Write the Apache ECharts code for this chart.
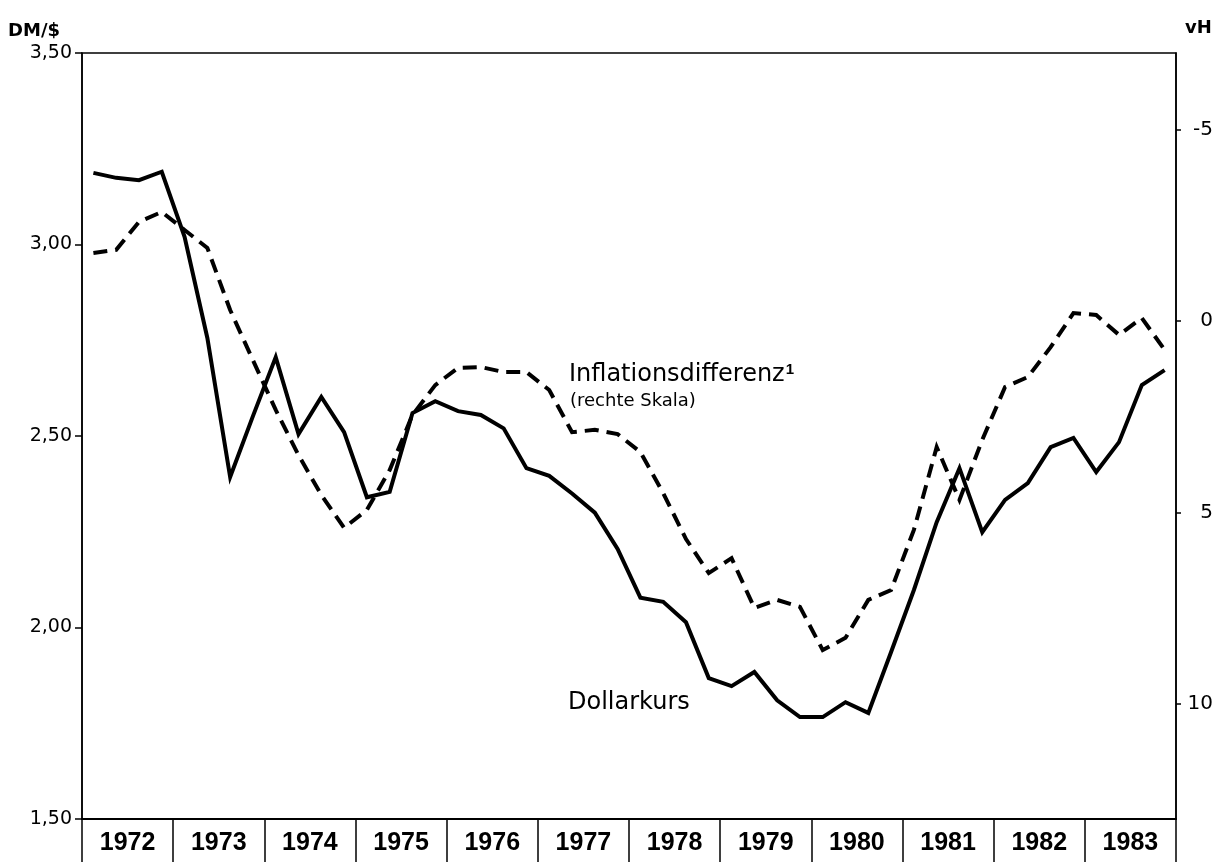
<!DOCTYPE html>
<html>
<head>
<meta charset="utf-8">
<script src="https://cdn.jsdelivr.net/npm/echarts@6/dist/echarts.min.js"></script>
<style>
  html, body { margin: 0; padding: 0; background: #fff; }
  #chart { width: 1229px; height: 862px; }
</style>
</head>
<body>
<div id="chart"></div>
<script>
// Jahre (untere Achse) und Quartale
const years = ['1972', '1973', '1974', '1975', '1976', '1977', '1978', '1979', '1980', '1981', '1982', '1983'];
const quarters = years.flatMap(y => ['I', 'II', 'III', 'IV'].map(q => y + '/' + q));

// Dollarkurs DM/$ (linke Skala), Quartalswerte
const dollarKurs = [
  3.187, 3.174, 3.168, 3.190,
  3.020, 2.756, 2.393, 2.552,
  2.706, 2.505, 2.602, 2.510,
  2.340, 2.354, 2.560, 2.591,
  2.565, 2.555, 2.520, 2.416,
  2.396, 2.350, 2.300, 2.205,
  2.078, 2.067, 2.014, 1.868,
  1.847, 1.884, 1.810, 1.766,
  1.766, 1.805, 1.777, 1.936,
  2.098, 2.275, 2.416, 2.249,
  2.333, 2.377, 2.471, 2.495,
  2.406, 2.484, 2.633, 2.672
];

// Inflationsdifferenz in vH (rechte Skala, umgekehrt)
const inflDiff = [
  -1.78, -1.86, -2.59, -2.85,
  -2.38, -1.91, -0.29, 1.02,
  2.32, 3.50, 4.54, 5.40,
  4.93, 3.89, 2.45, 1.67,
  1.22, 1.20, 1.33, 1.33,
  1.80, 2.90, 2.84, 2.95,
  3.42, 4.49, 5.69, 6.58,
  6.19, 7.49, 7.28, 7.46,
  8.59, 8.27, 7.28, 7.02,
  5.45, 3.29, 4.67, 3.10,
  1.72, 1.46, 0.68, -0.21,
  -0.16, 0.36, -0.08, 0.75
];

// Skalenbeschriftungen rechts
const rightTicks = [-5, 0, 5, 10];

const font = "'Liberation Sans', Arial, sans-serif";
const labelFont = "'DejaVu Sans', sans-serif";
const chart = echarts.init(document.getElementById('chart'), null, { renderer: 'canvas' });

const option = {
  animation: false,
  backgroundColor: '#fff',
  grid: {
    left: 82, right: 53, top: 53, bottom: 43,
    show: true, borderColor: '#000', borderWidth: 1.5
  },
  xAxis: [
    {
      type: 'category',
      data: quarters,
      boundaryGap: true,
      axisLine: { show: true, onZero: false, lineStyle: { color: '#000', width: 2 } },
      axisTick: { show: false },
      axisLabel: { show: false },
      splitLine: { show: false }
    },
    {
      type: 'category',
      data: years,
      position: 'bottom',
      offset: 0,
      boundaryGap: true,
      axisLine: { show: false, onZero: false },
      axisTick: { show: true, interval: 0, inside: false, length: 43, lineStyle: { color: '#000', width: 1.5 } },
      axisLabel: {
        interval: 0, margin: 12, color: '#000',
        fontFamily: font, fontWeight: 'bold', fontSize: 25
      },
      splitLine: { show: false }
    }
  ],
  yAxis: [
    {
      type: 'value',
      position: 'left',
      min: 1.5, max: 3.5, interval: 0.5,
      name: 'DM/$',
      nameLocation: 'end',
      nameGap: 13,
      nameTextStyle: { color: '#000', fontFamily: labelFont, fontWeight: 'bold', fontSize: 18, align: 'right', padding: [0, 22, 0, 0] },
      axisLine: { show: true, lineStyle: { color: '#000', width: 1.5 } },
      axisTick: { show: true, inside: false, length: 7, lineStyle: { color: '#000', width: 1.5 } },
      axisLabel: {
        margin: 10, color: '#000', fontFamily: labelFont, fontSize: 19,
        formatter: v => v.toFixed(2).replace('.', ',')
      },
      splitLine: { show: false }
    },
    {
      type: 'value',
      position: 'right',
      inverse: true,
      min: -7, max: 13,
      name: 'vH',
      nameLocation: 'start',
      nameGap: 16,
      nameTextStyle: { color: '#000', fontFamily: labelFont, fontWeight: 'bold', fontSize: 18, align: 'left', padding: [0, 0, 0, 9] },
      axisLine: { show: true, lineStyle: { color: '#000', width: 1.5 } },
      axisTick: { show: true, inside: false, length: 5, customValues: rightTicks, lineStyle: { color: '#000', width: 1.5 } },
      axisLabel: {
        customValues: rightTicks,
        align: 'right', margin: 37, color: '#000', fontFamily: labelFont, fontSize: 20,
        formatter: v => String(v)
      },
      splitLine: { show: false }
    }
  ],
  series: [
    {
      name: 'Dollarkurs',
      type: 'line',
      xAxisIndex: 0, yAxisIndex: 0,
      data: dollarKurs,
      symbol: 'none',
      lineStyle: { color: '#000', width: 4, join: 'miter' },
      z: 3
    },
    {
      name: 'Inflationsdifferenz',
      type: 'line',
      xAxisIndex: 0, yAxisIndex: 1,
      data: inflDiff,
      symbol: 'none',
      lineStyle: { color: '#000', width: 4, type: [14, 8], join: 'miter' },
      z: 2
    }
  ],
  graphic: [
    {
      type: 'text', left: 569, top: 362,
      style: {
        text: 'Inflationsdifferenz{s|1}',
        font: '24px ' + labelFont, fill: '#000',
        rich: { s: { fontSize: 15, fontWeight: 'bold', fontFamily: font, verticalAlign: 'top', padding: [0, 0, 10, 1] } }
      }
    },
    {
      type: 'text', left: 570, top: 392,
      style: { text: '(rechte Skala)', font: '18px ' + labelFont, fill: '#000' }
    },
    {
      type: 'text', left: 568, top: 691,
      style: { text: 'Dollarkurs', font: '24px ' + labelFont, fill: '#000' }
    }
  ]
};

chart.setOption(option);
</script>
</body>
</html>
